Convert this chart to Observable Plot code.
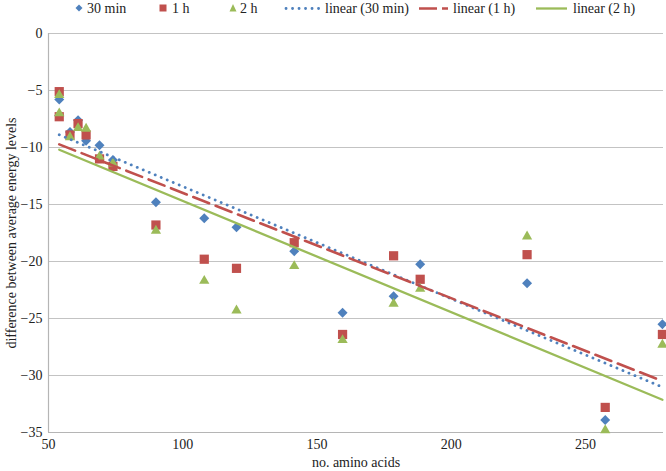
<!DOCTYPE html>
<html><head><meta charset="utf-8">
<script src="https://cdn.jsdelivr.net/npm/d3@7"></script>
<script src="https://cdn.jsdelivr.net/npm/@observablehq/plot@0.6"></script>
<style>
body{margin:0;background:#fff;font-family:"Liberation Serif","Times New Roman",Lato,"Liberation Sans",sans-serif;}
#legend{position:relative;height:18px;font-size:14px;color:#222;}
.li{position:absolute;top:0;height:18px;line-height:17px;white-space:nowrap;}
</style></head><body>
<div id="legend"></div>
<div id="chart"></div>
<script>
// number of amino acids (x) for each protein
const aminoAcids = [54, 54, 58, 61, 64, 69, 74, 90, 108, 120, 141.5, 159.5, 178.5, 188.4, 228.2, 257.3, 278.6];
// difference between average energy levels per time point
const diff30min = [-5.8, -7.2, -8.65, -7.6, -9.4, -9.8, -11.1, -14.8, -16.2, -17.0, -19.1, -24.5, -23.05, -20.25, -21.9, -33.9, -25.5];
const diff1h    = [-5.1, -7.3, -8.9, -7.9, -8.9, -11.0, -11.66, -16.8, -19.8, -20.6, -18.35, -26.4, -19.5, -21.56, -19.4, -32.8, -26.4];
const diff2h    = [-5.4, -7.0, -9.1, -8.3, -8.35, -10.8, -11.4, -17.3, -21.7, -24.3, -20.4, -26.9, -23.7, -22.4, -17.8, -34.8, -27.3];
const seriesNames = ["30 min", "1 h", "2 h"];
const xTicks = [50, 100, 150, 200, 250];
const yTicks = [0, -5, -10, -15, -20, -25, -30, -35];

const FONT = '"Liberation Serif","Times New Roman",Lato,"Liberation Sans",sans-serif';
const colors = {"30 min": "#4F81BD", "1 h": "#C0504D", "2 h": "#9BBB59"};
const rows = (vals, s) => aminoAcids.map((a, i) => ({aa: a, v: vals[i], s}));
const d30 = rows(diff30min, seriesNames[0]);
const d1 = rows(diff1h, seriesNames[1]);
const d2 = rows(diff2h, seriesNames[2]);

// legend
const legend = document.getElementById("legend");
function add(html, left) { const d = document.createElement("div"); d.className = "li"; d.style.left = left + "px"; d.innerHTML = html; legend.appendChild(d); }
add(`<svg width="10" height="18"><path d="M5,4.5L8.5,8L5,11.5L1.5,8Z" fill="${colors["30 min"]}"/></svg>`, 74);
add(seriesNames[0], 87);
add(`<svg width="10" height="18"><rect x="1.5" y="4.5" width="7" height="7" fill="${colors["1 h"]}"/></svg>`, 158);
add(seriesNames[1], 172);
add(`<svg width="10" height="18"><path d="M5,4L8.5,11.5L1.5,11.5Z" fill="${colors["2 h"]}"/></svg>`, 228);
add(seriesNames[2], 240);
add(`<svg width="38" height="18"><line x1="2" y1="8.5" x2="35" y2="8.5" stroke="${colors["30 min"]}" stroke-width="2.8" stroke-linecap="round" stroke-dasharray="0.1 6.4"/></svg>`, 284);
add("linear (30 min)", 325);
add(`<svg width="32" height="18"><line x1="0" y1="8.5" x2="30" y2="8.5" stroke="${colors["1 h"]}" stroke-width="2.6" stroke-dasharray="18 5 6 20"/></svg>`, 419);
add("linear (1 h)", 453);
add(`<svg width="34" height="18"><line x1="0" y1="8.5" x2="31" y2="8.5" stroke="${colors["2 h"]}" stroke-width="2.3"/></svg>`, 536);
add("linear (2 h)", 573);

const chart = Plot.plot({
  width: 666,
  height: 453,
  marginLeft: 48,
  marginRight: 3,
  marginTop: 15,
  marginBottom: 39,
  style: {fontFamily: FONT, fontSize: "14px", color: "#222", background: "#fff", overflow: "visible"},
  x: {domain: [50, 279]},
  y: {domain: [-35, 0]},
  marks: [
    Plot.gridY(yTicks, {stroke: "#c3c3c3", strokeOpacity: 1, strokeWidth: 1}),
    Plot.ruleX([50], {stroke: "#b5b5b5", strokeWidth: 1.2}),
    Plot.ruleY([-35], {stroke: "#b5b5b5", strokeWidth: 1.2}),
    Plot.axisX(xTicks, {tickSize: 0, tickPadding: 7, label: null, fontSize: 14}),
    Plot.axisY(yTicks, {tickSize: 0, tickPadding: 6, label: null, fontSize: 14}),
    Plot.text(["no. amino acids"], {frameAnchor: "bottom", dy: 30, textAnchor: "middle", lineAnchor: "middle", fontSize: 14}),
    Plot.text(["difference between average energy levels"], {frameAnchor: "left", dx: -37, rotate: -90, textAnchor: "middle", lineAnchor: "middle", fontSize: 14}),
    Plot.dot(d30, {x: "aa", y: "v", symbol: "diamond2", r: 4.5, fill: colors["30 min"], stroke: null}),
    Plot.dot(d1, {x: "aa", y: "v", symbol: "square", r: 5.2, fill: colors["1 h"], stroke: null}),
    Plot.dot(d2, {x: "aa", y: "v", symbol: "triangle", r: 3.8, fill: colors["2 h"], stroke: null}),
    Plot.linearRegressionY(d30, {x: "aa", y: "v", ci: 0, stroke: colors["30 min"], strokeWidth: 2.8, strokeLinecap: "round", strokeDasharray: "0.1 6.4"}),
    Plot.linearRegressionY(d1, {x: "aa", y: "v", ci: 0, stroke: colors["1 h"], strokeWidth: 2.6, strokeDasharray: "17 7"}),
    Plot.linearRegressionY(d2, {x: "aa", y: "v", ci: 0, stroke: colors["2 h"], strokeWidth: 2.3})
  ]
});
document.getElementById("chart").appendChild(chart);
</script>
</body></html>
